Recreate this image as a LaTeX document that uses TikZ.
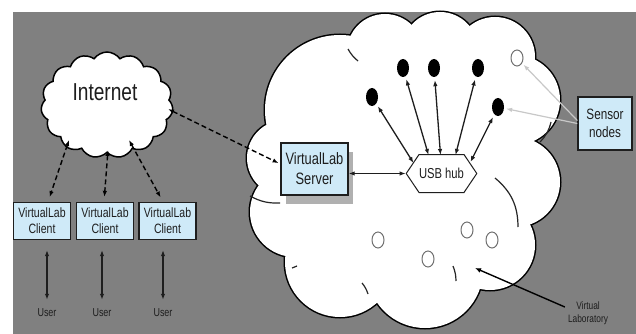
\documentclass[tikz,border=0pt]{standalone}
\usepackage{fontspec}
\setmainfont{Liberation Sans}[FakeStretch=0.78]
\usetikzlibrary{shapes.symbols,shapes.geometric,arrows.meta,shadows}
\definecolor{bg}{HTML}{808080}
\definecolor{boxblue}{HTML}{CFEAF8}
\definecolor{ink}{HTML}{1E1E1E}
\definecolor{shadowgray}{HTML}{B0B0B0}
\definecolor{lightline}{HTML}{C8C8C8}
\definecolor{ringgray}{HTML}{707070}
\begin{document}
\begin{tikzpicture}[x=1pt,y=-1pt,
  box/.style={draw=ink, line width=1.3pt, fill=boxblue, align=center, inner sep=1pt, text=ink},
  client/.style={box, minimum width=57pt, minimum height=37pt, font=\fontsize{13.5}{16}\selectfont},
  label/.style={text=ink, align=center, inner sep=1pt},
  dbl/.style={{Latex[length=6pt,width=4.5pt]}-{Latex[length=6pt,width=4.5pt]}, draw=ink, line width=1.3pt},
  dsh/.style={{Latex[length=6pt,width=4.5pt]}-{Latex[length=6pt,width=4.5pt]}, draw=black, line width=1.4pt, dash pattern=on 5pt off 3pt},
  blob/.style={ellipse, fill=black, inner sep=0pt, minimum width=12pt, minimum height=18pt},
  ring/.style={ellipse, draw=ringgray, fill=white, line width=1pt, inner sep=0pt, minimum width=12pt, minimum height=16pt},
  gline/.style={-{Latex[length=6pt,width=4.5pt]}, draw=lightline, line width=1.2pt},
  inner/.style={draw=black!85, line width=1.2pt}
]
\useasboundingbox (0,0) rectangle (636,334);
\fill[white] (0,0) rectangle (636,334);
\fill[bg] (13,12) rectangle (636,334);

% big cloud (Virtual Laboratory)
\foreach \cx/\cy/\r in {285/158/38, 340/110/75, 385/52/38, 440/50/38, 495/57/40, 515/100/45, 515/182/45, 490/245/45, 425/270/58, 340/262/55, 295/212/45}
  \draw[black, line width=3pt] (\cx,\cy) circle[radius=\r];
\foreach \cx/\cy/\r in {285/158/38, 340/110/75, 385/52/38, 440/50/38, 495/57/40, 515/100/45, 515/182/45, 490/245/45, 425/270/58, 340/262/55, 295/212/45}
  \fill[white] (\cx,\cy) circle[radius=\r];
\fill[white] (285,158) -- (340,110) -- (385,52) -- (440,50) -- (495,57) -- (515,100) -- (515,182) -- (490,245) -- (425,270) -- (340,262) -- (295,212) -- cycle;
% inner lobe strokes
\draw[inner] (348,49) to[bend right=10] (358,61);
\draw[inner] (551,122) to[bend left=15] (540,142);
\draw[inner] (495,178) to[bend left=25] (518,227);
\draw[inner] (250,196) to[bend right=15] (280,203);
\draw[inner] (292,268) -- (297,266);
\draw[inner] (362,283) to[bend left=10] (368,294);
\draw[inner] (453,266) to[bend left=10] (456,281);

% Internet cloud
\node[cloud, cloud puffs=15, cloud puff arc=110, draw=black, fill=white, line width=1.5pt,
      minimum width=132pt, minimum height=106pt] (inet) at (107,105) {};
\node[label, font=\fontsize{24.5}{28}\selectfont] (inettext) at (105,92) {Internet};

% clients and users
\node[client] (c1) at (42,221) {VirtualLab\\Client};
\node[client] (c2) at (105,221) {VirtualLab\\Client};
\node[client] (c3) at (167.5,221) {VirtualLab\\Client};
\node[label, font=\fontsize{11.5}{13}\selectfont] (u1) at (47,313) {User};
\node[label, font=\fontsize{11.5}{13}\selectfont] (u2) at (102,313) {User};
\node[label, font=\fontsize{11.5}{13}\selectfont] (u3) at (163,313) {User};
\foreach \c/\u in {c1/u1, c2/u2, c3/u3}
  \draw[dbl, shorten <=10pt, shorten >=8pt] (\u |- \c.south) -- (\u.north);

% internet connection points
\coordinate (i1) at (69,140);
\coordinate (i2) at (108,150);
\coordinate (i3) at (129,140);
\coordinate (i4) at (168,109);
\draw[dsh, shorten >=5pt] (i1) -- (c1.north -| 48,0);
\draw[dsh, shorten >=5pt] (i2) -- (c2.north -| 104,0);
\draw[dsh, shorten >=5pt] (i3) -- (c3.north -| 163,0);

% server
\node[box, minimum width=67pt, minimum height=52pt, font=\fontsize{16.5}{20}\selectfont,
      general shadow={fill=shadowgray, shadow xshift=5pt, shadow yshift=-9pt}] (srv) at (314.5,169) {VirtualLab\\Server};
\draw[dsh, shorten >=2pt] (i4) -- ([yshift=5pt]srv.west);

% USB hub
\node[signal, signal to=east and west, signal pointer angle=112, draw=ink, fill=white, line width=1pt,
      minimum width=63pt, minimum height=38pt, inner sep=0pt, font=\fontsize{14.4}{16}\selectfont, text=ink] (hub) at (441.5,173.5) {USB hub};
\draw[dbl] (srv.east |- hub) -- (hub.west);

% sensor nodes
\node[blob] (s1) at (372,97) {};
\node[blob] (s2) at (403,68) {};
\node[blob] (s3) at (434,68) {};
\node[blob] (s4) at (478,68) {};
\node[blob] (s5) at (498,107) {};
\node[ring] (h0) at (517,58) {};
\node[ring] (h1) at (378,240) {};
\node[ring] (h2) at (428,259) {};
\node[ring] (h3) at (467,230) {};
\node[ring] (h4) at (492,240) {};

\draw[dbl, shorten >=3pt] ([xshift=-28pt,yshift=-9pt]hub.north) -- (s1);
\draw[dbl, shorten >=3pt] ([xshift=-13pt,yshift=-1pt]hub.north) -- (s2);
\draw[dbl, shorten >=3pt] ([xshift=-1pt,yshift=-1pt]hub.north) -- (s3);
\draw[dbl, shorten >=3pt] ([xshift=14pt,yshift=-1pt]hub.north) -- (s4);
\draw[dbl, shorten >=3pt] ([xshift=29pt,yshift=-8pt]hub.north) -- (s5);

% Sensor nodes box
\node[box, minimum width=54pt, minimum height=53pt, font=\fontsize{15}{18}\selectfont] (sn) at (605,123.5) {Sensor\\nodes};
\draw[gline, shorten >=2pt] ([yshift=3pt]sn.west) -- (h0);
\draw[gline, shorten >=2pt] (sn.west) -- (s5);

% Virtual Laboratory label
\node[label, font=\fontsize{10.7}{13}\selectfont] (vl) at (588,313) {Virtual\\Laboratory};
\coordinate (vlp) at (475,268);
\draw[-{Latex[length=6pt,width=5pt]}, draw=black, line width=1.4pt] ([xshift=-2pt,yshift=6pt]vl.west) -- (vlp);
\end{tikzpicture}
\end{document}
